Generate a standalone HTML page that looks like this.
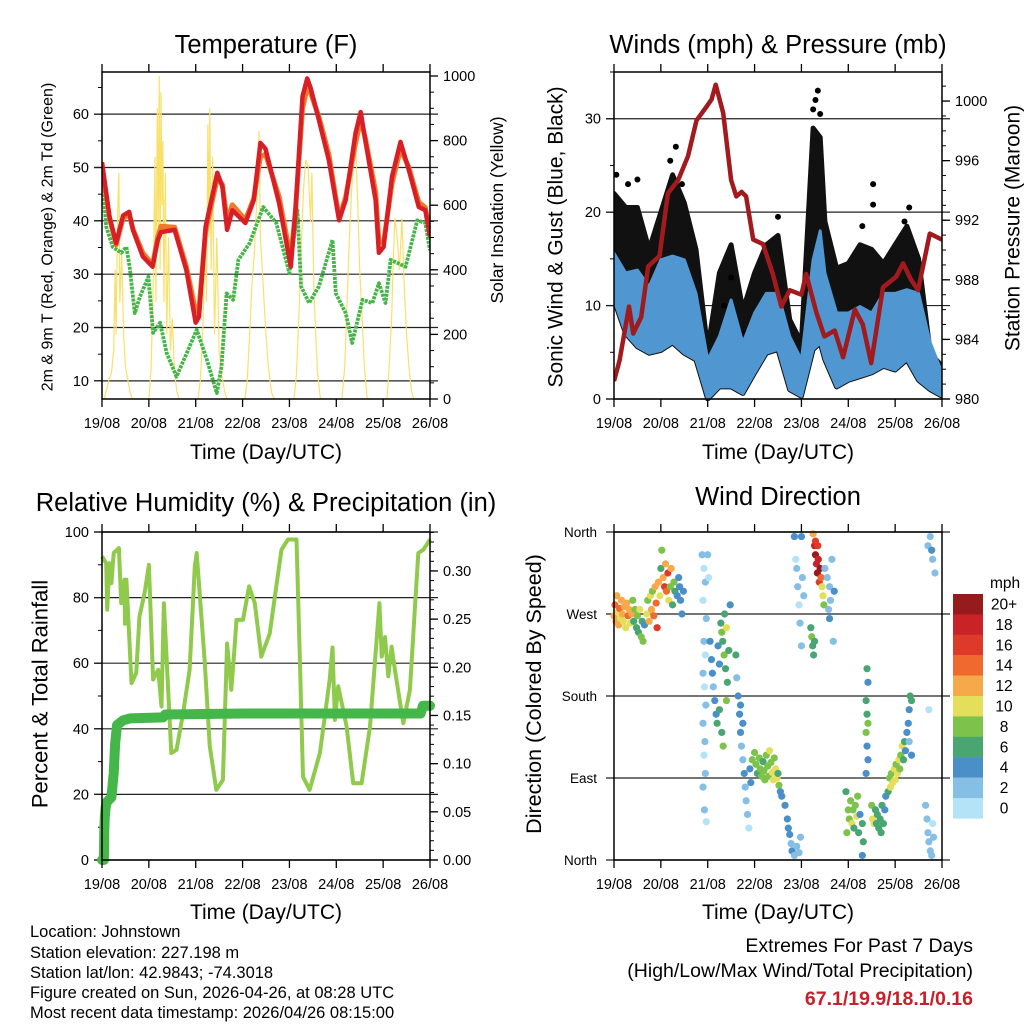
<!DOCTYPE html>
<html><head><meta charset="utf-8"><style>
html,body{margin:0;padding:0;background:#fff;}
svg{display:block;font-family:"Liberation Sans",Arial,sans-serif;}
</style></head><body>
<svg id="chart" width="1024" height="1024" viewBox="0 0 1024 1024" xmlns="http://www.w3.org/2000/svg">
<rect width="1024" height="1024" fill="#fff"/>
<g font-size="25.5" text-anchor="middle" fill="#000">
<text x="266" y="53">Temperature (F)</text>
<text x="778" y="53">Winds (mph) &amp; Pressure (mb)</text>
<text x="266" y="511">Relative Humidity (%) &amp; Precipitation (in)</text>
<text x="778" y="505">Wind Direction</text>
</g>
<g font-size="21" text-anchor="middle">
<text x="266" y="459">Time (Day/UTC)</text>
<text x="778" y="459">Time (Day/UTC)</text>
<text x="266" y="919">Time (Day/UTC)</text>
<text x="778" y="919">Time (Day/UTC)</text>
<text font-size="16" transform="translate(48,237) rotate(-90)" dominant-baseline="central">2m &amp; 9m T (Red, Orange) &amp; 2m Td (Green)</text>
<text font-size="17.5" transform="translate(497,210) rotate(-90)" dominant-baseline="central">Solar Insolation (Yellow)</text>
<text transform="translate(556,237) rotate(-90)" dominant-baseline="central">Sonic Wind &amp; Gust (Blue, Black)</text>
<text transform="translate(1013,228) rotate(-90)" dominant-baseline="central">Station Pressure (Maroon)</text>
<text font-size="22" transform="translate(40,694) rotate(-90)" dominant-baseline="central">Percent &amp; Total Rainfall</text>
<text font-size="21.5" transform="translate(534,694) rotate(-90)" dominant-baseline="central">Direction (Colored By Speed)</text>
</g>
<g font-size="16.5" fill="#000">
<text x="30" y="937">Location: Johnstown</text>
<text x="30" y="958">Station elevation: 227.198 m</text>
<text x="30" y="978">Station lat/lon: 42.9843; -74.3018</text>
<text x="30" y="998">Figure created on Sun, 2026-04-26, at 08:28 UTC</text>
<text x="30" y="1018">Most recent data timestamp: 2026/04/26 08:15:00</text>
</g>
<g font-size="19.5" text-anchor="end">
<text x="973" y="952">Extremes For Past 7 Days</text>
<text x="973" y="977">(High/Low/Max Wind/Total Precipitation)</text>
<text x="973" y="1005" font-weight="bold" fill="#c8202a">67.1/19.9/18.1/0.16</text>
</g>
</svg>
<script>
const dayLabels=['19/08','20/08','21/08','22/08','23/08','24/08','25/08','26/08'];
// Temperature
const tempTimes=[0,0.16,0.3,0.45,0.58,0.66,0.87,1.08,1.19,1.26,1.55,1.8,2.0,2.07,2.21,2.46,2.57,2.67,2.78,3.06,3.24,3.38,3.49,3.78,4.03,4.13,4.28,4.38,4.45,4.63,4.84,5.06,5.2,5.41,5.52,5.62,5.84,5.91,6.01,6.19,6.37,6.55,6.76,6.9,7.0];
const temp2m=[51,40.8,35.8,41,41.7,38.3,33.3,31.4,36.4,37.9,38.3,30.8,20.9,22,38.9,49,46.4,38.3,42,39.6,43.9,54.6,53.5,43.3,31.4,42,63.3,66.7,65,58.9,51.4,40.1,43.9,56.4,60.4,55.1,43.9,34,35.1,48.3,54.8,49.5,42.6,42,37];
const temp9m=[50,40.5,35.5,40.5,41.2,38.5,34,31.8,37,39,38.8,31.5,23,23.5,38,48,46.8,40,43,40.2,44.2,52,52.5,44.5,33,42,61,65,64,59.5,52.5,40.5,44.5,54.5,59,55.5,45.5,36,36,47,53.5,50,43.5,42.5,38];
const dewTimes=[0,0.09,0.23,0.41,0.52,0.59,0.7,0.81,0.99,1.09,1.24,1.38,1.59,1.81,2.02,2.24,2.45,2.55,2.66,2.8,2.91,3.15,3.44,3.72,4.0,4.17,4.25,4.42,4.63,4.92,4.99,5.2,5.34,5.56,5.77,5.91,6.05,6.16,6.48,6.73,6.9,7.0];
const dewValues=[49.5,38.9,35.1,34,35.1,31.4,22.7,25.8,29.5,19,20.9,15.2,10.8,15.2,19.6,13.9,7.7,12.7,26.4,25.2,32.7,35.8,42.6,39.6,30.2,42,27.7,24.6,27.7,36.4,26.4,22.7,17.1,25.2,24.6,28.3,24.6,32.7,31.4,40.1,39.6,34.5];
const solarTimes=[0,0.05,0.1,0.15,0.2,0.25,0.28,0.3,0.33,0.36,0.38,0.42,0.46,0.5,0.55,0.6,0.65,
1.0,1.05,1.1,1.13,1.15,1.18,1.2,1.22,1.24,1.26,1.28,1.3,1.32,1.35,1.38,1.42,1.46,1.5,1.55,1.6,1.65,
2.05,2.1,2.15,2.2,2.23,2.26,2.28,2.3,2.33,2.36,2.4,2.45,2.5,2.55,2.62,2.67,
3.05,3.1,3.15,3.2,3.25,3.3,3.35,3.38,3.42,3.46,3.5,3.55,3.62,3.67,
4.1,4.15,4.2,4.25,4.3,4.35,4.4,4.45,4.48,4.52,4.56,4.6,4.66,
5.12,5.18,5.23,5.28,5.33,5.38,5.42,5.46,5.5,5.55,5.6,5.66,
6.08,6.12,6.18,6.22,6.25,6.3,6.35,6.4,6.45,6.5,6.55,6.6,6.65,7.0];
const solarValues=[0,0,30,60,80,150,400,200,560,700,300,450,200,100,60,20,0,
0,100,400,750,300,900,500,1000,400,950,600,800,300,700,200,500,150,250,80,20,0,
0,60,200,500,300,850,500,900,400,750,200,500,150,80,20,0,
0,60,200,350,450,600,830,500,400,300,200,100,20,0,
0,80,250,450,650,740,720,550,700,350,200,80,0,
0,100,300,500,650,780,760,600,400,250,100,0,
0,80,250,450,560,500,400,560,350,200,100,30,0,0];
// Winds
const windTimes=[0,0.25,0.5,0.75,1.0,1.25,1.5,1.75,2.0,2.25,2.5,2.75,3.0,3.25,3.5,3.75,4.0,4.25,4.4,4.5,4.75,5.0,5.25,5.5,5.75,6.0,6.25,6.5,6.75,7.0];
const windHigh=[15.6,13.5,13.8,12,14.9,15.3,14.9,11.3,4.2,6.7,10.6,6,9.2,11.3,11.3,6.7,4.2,14.9,18,13.5,9.2,9.2,9.9,9.2,11.3,11.3,11.7,11.3,6,2.8];
const windLow=[10.6,7,5.6,4.9,5.2,6,4.9,4.2,0,1.3,1.3,0.6,2.8,4.9,5.3,1,0.3,5.3,6,4.2,1.3,2,2.4,2.8,3.5,3.1,4.2,2,1,0.3];
const gustHigh=[22,20.5,20.5,16,20,24,21,16,5.3,13.5,16.5,9.5,13.5,16.5,17.5,8.5,6,29,28,19,14,14.5,16.5,16,14.5,16.5,18.5,15,4.9,3.5];
const gustOutTimes=[4.25,4.3,4.35,4.4,5.53,5.53,2.5,2.35,2.78,1.32,0.5,0.05,0.3,1.2,1.45,3.5,6.3,6.2,5.3];
const gustOutValues=[31,32,33,30.5,23,20.8,13,10,7,27,23.5,24,23,25.5,23,19.5,20.5,19,18.5];
const pressTimes=[0,0.12,0.32,0.41,0.58,0.73,0.97,1.15,1.37,1.58,1.76,1.97,2.08,2.17,2.33,2.5,2.61,2.72,2.82,2.97,3.18,3.39,3.57,3.75,4.0,4.1,4.32,4.49,4.71,4.89,5.14,5.31,5.49,5.74,6.02,6.17,6.34,6.49,6.74,7.0];
const pressValues=[981.2,982.6,986.2,984.4,985.5,988.9,989.6,993.8,994.7,996.3,998.7,999.6,1000.1,1001.1,999.2,994.7,993.6,993.9,993.6,990.7,990.4,988.4,986.2,987.3,987.0,988.4,985.8,984.2,984.6,982.8,986.0,985.0,982.4,987.5,988.2,989.1,988.0,987.3,991.1,990.7];
// Humidity / precip
const rhTimes=[0,0.09,0.11,0.16,0.2,0.25,0.36,0.41,0.48,0.49,0.52,0.63,0.73,0.8,0.91,1.0,1.09,1.2,1.27,1.32,1.37,1.48,1.59,1.73,1.87,1.98,2.02,2.19,2.3,2.44,2.58,2.67,2.76,2.83,2.87,3.01,3.14,3.26,3.4,3.58,3.72,3.83,3.97,4.15,4.22,4.29,4.43,4.65,4.86,4.92,4.97,5.04,5.22,5.36,5.54,5.72,5.92,5.97,6.04,6.11,6.18,6.25,6.43,6.57,6.75,6.86,7.0];
const rhValues=[92.6,90.5,76.3,90.5,84.4,93.6,95.1,78.3,85.5,72,85.5,53.9,57,74.3,81.4,90,55,58,46.8,78.3,64,32.6,33.6,44.8,58,89.5,93.6,61,34.6,21.4,24.4,66,51.9,65,73.2,73.2,83.4,78.3,62,69,83.4,94.6,97.7,97.7,63,25.4,21.4,32.6,55,64.8,42.7,53,40.7,23.4,23.4,40.7,78.3,62,68,56,65,58,41.7,51.9,93.6,94.6,97.7];
const precipTimes=[0,0.04,0.05,0.06,0.08,0.1,0.2,0.25,0.28,0.32,0.45,0.6,1.3,1.35,3.0,6.8,6.85,7.0];
const precipValues=[0,0,0.03,0.045,0.055,0.06,0.065,0.09,0.12,0.14,0.145,0.147,0.148,0.151,0.152,0.152,0.16,0.16];
// Wind direction [day, degrees, mph]
const dirObs=[[0.0,268,12],[0.02,280,14],[0.04,262,12],[0.06,290,12],[0.08,272,10],[0.1,258,12],[0.12,276,14],[0.14,265,10],[0.16,285,12],[0.18,270,12],[0.2,262,10],[0.22,278,12],[0.25,255,10],[0.27,282,12],[0.3,268,14],[0.32,275,12],[0.35,260,10],[0.38,270,12],[0.4,285,8],[0.42,262,6],[0.45,275,8],[0.48,255,6],
[0.5,268,8],[0.52,250,6],[0.55,275,10],[0.58,245,8],[0.6,262,6],[0.62,240,8],[0.65,258,4],[0.7,270,10],[0.72,285,8],[0.75,262,12],[0.78,290,10],[0.8,275,12],[0.82,295,8],[0.85,268,14],[0.88,300,12],[0.9,282,14],[0.92,255,16],[0.95,305,12],[0.98,290,10],
[1.0,320,6],[1.02,340,8],[1.05,310,12],[1.08,300,16],[1.1,325,12],[1.12,295,14],[1.15,315,16],[1.17,285,10],[1.2,300,8],[1.22,320,12],[1.25,280,6],[1.28,305,8],[1.3,295,6],[1.35,290,4],[1.38,310,4],[1.4,300,4],[1.42,285,4],[1.45,270,4],[1.48,295,4],
[1.88,335,2],[1.92,320,0],[1.95,305,2],[1.9,285,0],[1.97,265,2],[1.92,240,2],[1.95,225,0],[1.9,205,2],[1.93,190,0],[1.96,170,2],[1.9,150,2],[1.94,130,2],[1.92,115,0],[1.95,95,2],[1.9,80,2],[1.93,55,2],[1.97,42,0],[2.0,335,2],[2.02,310,0],
[2.05,240,4],[2.08,220,4],[2.1,205,4],[2.12,190,2],[2.15,175,4],[2.18,160,4],[2.2,150,6],[2.22,235,4],[2.25,215,4],[2.28,260,6],[2.3,250,8],[2.32,240,6],[2.35,225,8],[2.36,270,6],[2.38,210,6],[2.4,255,10],[2.42,195,6],[2.45,230,6],[2.48,280,4],[2.3,140,6],[2.33,125,8],[2.25,165,6],[2.4,175,8],
[2.6,225,6],[2.62,200,2],[2.65,180,4],[2.68,160,4],[2.7,140,4],[2.72,125,2],[2.75,110,2],[2.78,95,4],[2.8,80,2],[2.82,65,2],[2.85,50,2],[2.88,35,0],[2.7,170,4],[2.75,150,4],[2.9,100,4],[2.92,85,4],
[2.95,110,8],[3.0,118,8],[3.03,105,8],[3.06,95,6],[3.1,112,8],[3.12,100,8],[3.15,92,8],[3.18,108,6],[3.2,98,8],[3.22,88,8],[3.25,115,8],[3.28,103,8],[3.3,92,8],[3.32,120,10],[3.35,107,8],[3.38,96,10],[3.4,88,10],[3.42,112,8],[3.45,100,10],[3.48,90,10],[3.5,95,6],[3.52,82,8],[3.55,75,4],[3.58,70,4],
[3.65,60,4],[3.7,45,4],[3.72,35,4],[3.75,28,4],[3.78,18,2],[3.8,10,4],[3.85,5,2],[3.9,15,2],[3.95,8,2],[3.98,25,2],
[3.85,355,4],[3.88,330,0],[3.9,320,2],[3.92,300,2],[3.95,280,0],[3.97,260,2],[4.0,235,2],[4.02,310,2],[4.05,290,2],[4.0,355,4],
[4.25,358,12],[4.28,345,18],[4.3,335,20],[4.32,325,18],[4.34,315,20],[4.36,330,18],[4.38,305,16],[4.4,320,20],[4.42,310,14],[4.44,300,10],[4.46,290,10],[4.48,280,8],[4.3,350,16],[4.35,345,16],
[4.2,255,6],[4.22,245,8],[4.24,235,6],[4.26,225,6],[4.28,240,6],
[4.5,320,2],[4.55,310,2],[4.6,300,2],[4.62,285,2],[4.58,275,2],[4.65,330,2],[4.7,295,4],[4.6,265,4],[4.68,240,2],
[4.95,75,6],[4.97,30,8],[5.0,55,8],[5.02,45,8],[5.05,65,8],[5.08,40,10],[5.1,55,8],[5.12,35,6],[5.15,60,8],[5.18,48,10],[5.2,70,8],[5.22,30,6],[5.25,50,4],[5.3,40,6],[5.32,20,6],
[5.38,175,6],[5.4,160,6],[5.42,150,8],[5.38,140,8],[5.4,125,4],[5.42,110,4],[5.38,95,4],[5.4,210,6],[5.42,195,4],[5.3,5,4],
[5.5,60,8],[5.52,45,10],[5.55,40,10],[5.58,55,6],[5.6,40,6],[5.62,50,6],[5.65,35,6],[5.68,45,6],[5.7,30,6],[5.72,60,6],[5.75,40,6],[5.78,55,4],[5.8,70,4],
[5.85,75,6],[5.88,90,8],[5.9,80,10],[5.92,95,8],[5.95,85,10],[5.98,100,10],[6.0,88,10],[6.02,105,8],[6.05,95,10],[6.08,110,10],[6.1,100,8],[6.12,115,8],[6.15,125,10],[6.18,110,6],[6.2,130,6],[6.22,120,4],[6.25,140,4],[6.28,150,4],[6.3,165,4],[6.32,180,6],[6.35,175,6],[6.3,130,2],[6.35,115,4],
[6.65,60,2],[6.68,45,2],[6.7,30,2],[6.72,20,2],[6.75,10,2],[6.78,5,2],[6.8,40,0],[6.82,25,2],[6.7,345,2],[6.75,355,2],[6.8,330,2],[6.85,315,2],[6.78,340,4],[6.72,165,0]];
const speedLabels=['20+','18','16','14','12','10','8','6','4','2','0'];
const speedColors=['#971a1d','#c92327','#dd3a29','#ef6a2c','#f6a94b','#e4df5b','#7dc24b','#49a672','#4a8fc8','#85bfe6','#b4e3f7'];

const NS='http://www.w3.org/2000/svg';
const svg=document.getElementById('chart');
function mk(tag,attrs,parent){const e=document.createElementNS(NS,tag);for(const k in attrs)e.setAttribute(k,attrs[k]);(parent||svg).appendChild(e);return e;}
const P={tl:{x0:102,x1:430,y0:72,y1:399},tr:{x0:614,x1:942,y0:72,y1:399},bl:{x0:102,x1:430,y0:532,y1:860},br:{x0:614,x1:942,y0:532,y1:860}};
function xs(p,d){return p.x0+d/7*(p.x1-p.x0);}
function lin(p,lo,hi){return v=>p.y1-(v-lo)/(hi-lo)*(p.y1-p.y0);}

function xAxis(p,key){
  const g=mk('g',{});
  
  
  dayLabels.forEach((lab,i)=>{
    const x=xs(p,i);
    const t1=mk('line',{x1:x,x2:x,y1:p.y0-8,y2:p.y0,stroke:'#000','stroke-width':1.3},g);
    
    const t2=mk('line',{x1:x,x2:x,y1:p.y1,y2:p.y1+8,stroke:'#000','stroke-width':1.3},g);
    
    const t=mk('text',{x:x,y:p.y1+29,'font-size':14.5,'text-anchor':'middle'},g);
    
    t.textContent=lab;
  });
}
function yAxis(p,key,side,scale,major,labels,minor,grid){
  const g=mk('g',{'font-size':14.5});
  
  
  const edge=side==='left'?p.x0:p.x1, dir=side==='left'?-1:1;
  minor.forEach(v=>{const y=scale(v);
    const l=mk('line',{x1:edge,x2:edge+dir*4,y1:y,y2:y,stroke:'#000','stroke-width':1},g);
    });
  major.forEach((v,i)=>{const y=scale(v);
    const l=mk('line',{x1:edge,x2:edge+dir*8,y1:y,y2:y,stroke:'#000','stroke-width':1.3},g);
    
    if(grid){const gl=mk('line',{x1:p.x0-8,x2:p.x1+8,y1:y,y2:y,stroke:'#222','stroke-width':1.2},g);
      }
    const t=mk('text',{x:edge+dir*13,y:y+5,'text-anchor':side==='left'?'end':'start'},g);
    
    t.textContent=labels[i];});
}
function frame(p,key){const r=mk('rect',{x:p.x0,y:p.y0,width:p.x1-p.x0,height:p.y1-p.y0,fill:'none',stroke:'#000','stroke-width':1.5});
  }
function pts(p,ts,vs,sc){return ts.map((t,i)=>xs(p,t).toFixed(1)+','+sc(vs[i]).toFixed(1)).join(' ');}
function range(a,b,s){const r=[];for(let v=a;v<=b+1e-9;v+=s)r.push(+v.toFixed(4));return r;}

// ---- Temperature panel
{const p=P.tl;const ty=lin(p,6.6,67.9);const sy=lin(p,0,1012.4);
 const cl=mk('clipPath',{id:'c1'});mk('rect',{x:p.x0,y:p.y0,width:p.x1-p.x0,height:p.y1-p.y0},cl);
 yAxis(p,'temp','left',ty,[10,20,30,40,50,60],['10','20','30','40','50','60'],range(10,65,5),true);
 yAxis(p,'solar','right',sy,[0,200,400,600,800,1000],['0','200','400','600','800','1000'],range(0,1000,50),false);
 const g=mk('g',{'clip-path':'url(#c1)'});
 const s=mk('polyline',{points:pts(p,solarTimes,solarValues,sy),fill:'none',stroke:'#f9e06a','stroke-width':1.2},g);
 
 const d=mk('polyline',{points:pts(p,dewTimes,dewValues,ty),fill:'none',stroke:'#45b548','stroke-width':3.8,'stroke-dasharray':'3 1','stroke-linejoin':'round'},g);
 
 const o=mk('polyline',{points:pts(p,tempTimes,temp9m,ty),fill:'none',stroke:'#f07a2c','stroke-width':5,'stroke-linejoin':'round'},g);
 
 const r=mk('polyline',{points:pts(p,tempTimes,temp2m,ty),fill:'none',stroke:'#d81f26','stroke-width':4.5,'stroke-linejoin':'round'},g);
 
 frame(p,'temp');xAxis(p,'temp');}

// ---- Winds panel
{const p=P.tr;const wy=lin(p,0,35);const py=lin(p,980,1001.95);
 const cl=mk('clipPath',{id:'c2'});mk('rect',{x:p.x0,y:p.y0-4,width:p.x1-p.x0,height:p.y1-p.y0+6},cl);
 yAxis(p,'wind','left',wy,[0,10,20,30],['0','10','20','30'],range(0,35,5),true);
 yAxis(p,'pressure','right',py,[980,984,988,992,996,1000],['980','984','988','992','996','1000'],range(980,1001,1),false);
 const g=mk('g',{'clip-path':'url(#c2)'});
 const gp=windTimes.map((t,i)=>xs(p,t).toFixed(1)+','+wy(gustHigh[i]).toFixed(1)).concat(windTimes.map((t,i)=>xs(p,t).toFixed(1)+','+wy(windLow[i]).toFixed(1)).reverse()).join(' ');
 const gu=mk('polygon',{points:gp,fill:'#111',stroke:'#111','stroke-width':5,'stroke-linejoin':'round'},g);
 
 gustOutTimes.forEach((t,i)=>{const c=mk('circle',{cx:xs(p,t),cy:wy(gustOutValues[i]),r:3,fill:'#000'},g);
   });
 const bp=windTimes.map((t,i)=>xs(p,t).toFixed(1)+','+wy(windHigh[i]).toFixed(1)).concat(windTimes.map((t,i)=>xs(p,t).toFixed(1)+','+wy(windLow[i]).toFixed(1)).reverse()).join(' ');
 const bl=mk('polygon',{points:bp,fill:'#5096d0',stroke:'#5096d0','stroke-width':3,'stroke-linejoin':'round'},g);
 
 const pr=mk('polyline',{points:pts(p,pressTimes,pressValues,py),fill:'none',stroke:'#a11b1e','stroke-width':4.5,'stroke-linejoin':'round'},g);
 
 frame(p,'winds');xAxis(p,'winds');}

// ---- Humidity panel
{const p=P.bl;const hy=lin(p,0,100);const ry=lin(p,0,0.3404);
 const cl=mk('clipPath',{id:'c3'});mk('rect',{x:p.x0-8,y:p.y0,width:p.x1-p.x0+16,height:p.y1-p.y0+8},cl);
 yAxis(p,'rh','left',hy,[0,20,40,60,80,100],['0','20','40','60','80','100'],range(0,100,10),true);
 yAxis(p,'precip','right',ry,[0,0.05,0.1,0.15,0.2,0.25,0.3],['0.00','0.05','0.10','0.15','0.20','0.25','0.30'],range(0,0.34,0.01),false);
 const g=mk('g',{'clip-path':'url(#c3)'});
 const h=mk('polyline',{points:pts(p,rhTimes,rhValues,hy),fill:'none',stroke:'#8fca4d','stroke-width':4,'stroke-linejoin':'round'},g);
 
 const r=mk('polyline',{points:pts(p,precipTimes,precipValues,ry),fill:'none',stroke:'#45b649','stroke-width':10,'stroke-linejoin':'round','stroke-linecap':'round'},g);
 
 frame(p,'humidity');xAxis(p,'humidity');}

// ---- Wind direction panel
{const p=P.br;const dy=lin(p,0,360);
 const g0=mk('g',{'font-size':13.5});
 
 
 const dirTicks=[0,90,180,270,360];const dirNames=['North','East','South','West','North'];
 dirTicks.forEach((v,i)=>{const y=dy(v);
   const l=mk('line',{x1:p.x0-8,x2:p.x1+8,y1:y,y2:y,stroke:'#222','stroke-width':1.2},g0);
   
   const t=mk('text',{x:p.x0-17,y:y+5,'text-anchor':'end'},g0);
   
   t.textContent=dirNames[i];});
 const g=mk('g',{});
 
 
 dirObs.forEach(o=>{const bin=Math.min(10,Math.floor(o[2]/2));const col=speedColors[10-bin];
   const c=mk('circle',{cx:xs(p,o[0]),cy:dy(o[1]),r:3.6,fill:col},g);
   
   });
 frame(p,'direction');xAxis(p,'direction');
 const lg=mk('g',{'font-size':15.5});
 
 
 const lt=mk('text',{x:990,y:588},lg);
 
 lt.textContent='mph';
 speedLabels.forEach((lab,i)=>{const y=594+i*20.4;
   const r=mk('rect',{x:953,y:y,width:30,height:20.6,fill:speedColors[i]},lg);
   
   const t=mk('text',{x:1004,y:y+15.5,'text-anchor':'middle'},lg);
   
   t.textContent=lab;});}
</script>
</body></html>
